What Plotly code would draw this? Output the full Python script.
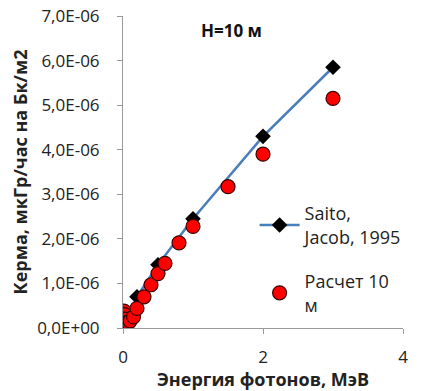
import plotly.graph_objects as go

# Saito, Jacob 1995 reference
saito_e = [0.2, 0.5, 1.0, 2.0, 3.0]
saito_k = [0.7e-6, 1.42e-6, 2.45e-6, 4.3e-6, 5.85e-6]

# Calculation 10 m
calc_e = [0.015, 0.02, 0.03, 0.05, 0.06, 0.08, 0.1, 0.15, 0.2, 0.3, 0.4, 0.5, 0.6, 0.8, 1.0, 1.5, 2.0, 3.0]
calc_k = [0.38e-6, 0.3e-6, 0.2e-6, 0.12e-6, 0.1e-6, 0.12e-6, 0.16e-6, 0.25e-6, 0.44e-6, 0.70e-6,
          0.97e-6, 1.22e-6, 1.45e-6, 1.91e-6, 2.28e-6, 3.17e-6, 3.9e-6, 5.15e-6]

y_tickvals = [0, 1e-6, 2e-6, 3e-6, 4e-6, 5e-6, 6e-6, 7e-6]
y_ticktext = ["0,0E+00", "1,0E-06", "2,0E-06", "3,0E-06", "4,0E-06", "5,0E-06", "6,0E-06", "7,0E-06"]
x_tickvals = [0, 2, 4]
x_ticktext = ["0", "2", "4"]

FONT = "'Open Sans', sans-serif"

fig = go.Figure()
fig.add_trace(go.Scatter(
    x=saito_e, y=saito_k, mode="lines+markers",
    name="Saito,<br>Jacob, 1995", legendgroup="saito",
    line=dict(color="#4a7ebb", width=2.5),
    marker=dict(symbol="diamond", size=12, color="black"),
))
fig.add_trace(go.Scatter(
    x=calc_e, y=calc_k, mode="markers",
    name="Расчет 10<br>м", legendgroup="calc",
    marker=dict(symbol="circle", size=14, color="#ff0000", line=dict(color="#3a0000", width=1.2)),
))

fig.update_layout(
    width=421, height=391,
    margin=dict(l=123, r=18, t=16, b=63),
    plot_bgcolor="white", paper_bgcolor="white",
    font=dict(family=FONT, size=16, color="#222"),
    showlegend=True,
    legend=dict(x=0.47, y=0.426, xanchor="left", yanchor="top",
                bgcolor="rgba(0,0,0,0)", font=dict(size=18, color="#222"),
                traceorder="grouped", tracegroupgap=18, itemwidth=40),
    annotations=[dict(text="<b>H=10 м</b>", x=0.386, y=0.955, xref="paper", yref="paper",
                      xanchor="center", yanchor="middle", showarrow=False,
                      font=dict(size=17, color="#111"))],
)
fig.update_xaxes(range=[0, 4], tickvals=x_tickvals, ticktext=x_ticktext, automargin=False,
                 showgrid=False, zeroline=False, showline=True, linecolor="#999", linewidth=1,
                 ticks="outside", tickcolor="#999", ticklen=5, ticklabelstandoff=9,
                 tickfont=dict(size=17),
                 title=dict(text="<b>Энергия фотонов, МэВ</b>", font=dict(size=18), standoff=6))
fig.update_yaxes(range=[0, 7e-6], tickvals=y_tickvals, ticktext=y_ticktext, automargin=False,
                 showgrid=False, zeroline=False, showline=True, linecolor="#999", linewidth=1,
                 ticks="outside", tickcolor="#999", ticklen=5, ticklabelstandoff=14,
                 tickfont=dict(size=17),
                 title=dict(text="<b>Керма, мкГр/час на Бк/м2</b>", font=dict(size=18), standoff=4))

fig.write_html("out.html", config={"displayModeBar": False},
               post_script="document.body.style.margin='0';")
